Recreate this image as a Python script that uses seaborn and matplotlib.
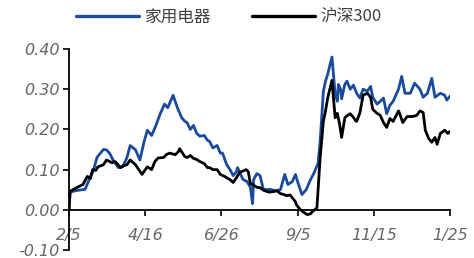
import matplotlib
matplotlib.use("Agg")
import matplotlib.pyplot as plt
import seaborn as sns
import pandas as pd

# ---- data (days since 2024-02-05) ----
blue_days = [0, 1, 7, 15, 20, 23, 26, 29, 32, 35,
             38, 41, 46, 50, 54, 57, 62, 66, 70, 73,
             77, 81, 85, 89, 92, 97, 101, 105, 108, 110,
             113, 116, 119, 122, 126, 129, 131, 134, 138, 141,
             143, 147, 150, 153, 156, 157, 162, 166, 169, 171,
             172, 175, 178, 181, 185, 187, 192, 197, 201, 204,
             208, 211, 213, 217, 221, 225, 228, 232, 234, 237,
             239, 241, 245, 248, 250, 251, 253, 254, 257, 259,
             262, 265, 268, 271, 274, 278, 281, 283, 287, 290,
             293, 296, 299, 302, 307, 310, 313, 318, 322, 327,
             330, 334, 338, 341, 346, 350, 352, 355]
blue_vals = [0.00, 0.044, 0.048, 0.051, 0.083, 0.10, 0.13, 0.14, 0.15, 0.149,
             0.14, 0.124, 0.105, 0.107, 0.13, 0.16, 0.149, 0.124, 0.17, 0.198,
             0.185, 0.21, 0.239, 0.263, 0.254, 0.285, 0.254, 0.229, 0.22, 0.217,
             0.20, 0.21, 0.19, 0.183, 0.185, 0.173, 0.17, 0.154, 0.16, 0.141,
             0.141, 0.112, 0.10, 0.085, 0.095, 0.105, 0.076, 0.07, 0.056, 0.015,
             0.075, 0.09, 0.085, 0.051, 0.05, 0.051, 0.048, 0.05, 0.088, 0.063,
             0.07, 0.088, 0.07, 0.038, 0.05, 0.075, 0.09, 0.115, 0.17, 0.295,
             0.32, 0.337, 0.38, 0.288, 0.27, 0.312, 0.30, 0.276, 0.312, 0.32,
             0.30, 0.31, 0.29, 0.278, 0.30, 0.295, 0.307, 0.28, 0.263, 0.27,
             0.278, 0.239, 0.26, 0.27, 0.30, 0.332, 0.29, 0.29, 0.315, 0.30,
             0.28, 0.29, 0.327, 0.28, 0.29, 0.285, 0.273, 0.283]

hs_days = [0, 1, 7, 13, 17, 20, 22, 25, 27, 32,
           35, 40, 43, 48, 51, 54, 57, 62, 65, 68,
           73, 77, 80, 83, 88, 91, 94, 99, 102, 103,
           106, 108, 110, 113, 116, 119, 122, 126, 129, 131,
           134, 138, 141, 145, 150, 153, 156, 159, 165, 167,
           169, 171, 175, 178, 181, 185, 187, 194, 197, 199,
           203, 206, 211, 212, 215, 218, 222, 225, 227, 231,
           234, 237, 239, 241, 245, 246, 248, 250, 252, 254,
           257, 259, 262, 265, 267, 268, 271, 274, 278, 281,
           283, 287, 290, 293, 296, 299, 302, 307, 308, 311,
           315, 320, 324, 327, 330, 332, 335, 338, 341, 343,
           346, 350, 353, 355]
hs_vals = [0.0, 0.046, 0.055, 0.063, 0.083, 0.078, 0.10, 0.098, 0.107, 0.112,
           0.124, 0.117, 0.12, 0.105, 0.11, 0.112, 0.124, 0.112, 0.10, 0.088,
           0.107, 0.10, 0.12, 0.129, 0.13, 0.138, 0.141, 0.137, 0.145, 0.152,
           0.14, 0.132, 0.13, 0.135, 0.128, 0.125, 0.12, 0.115, 0.105, 0.105,
           0.10, 0.1, 0.088, 0.083, 0.075, 0.068, 0.08, 0.093, 0.10, 0.095,
           0.065, 0.063, 0.056, 0.055, 0.049, 0.045, 0.044, 0.047, 0.04, 0.039,
           0.035, 0.037, 0.02, 0.012, 0.002, -0.005, -0.012, -0.01, -0.004, 0.005,
           0.13, 0.22, 0.246, 0.278, 0.322, 0.29, 0.229, 0.24, 0.215, 0.18,
           0.229, 0.234, 0.239, 0.23, 0.222, 0.22, 0.241, 0.285, 0.29, 0.28,
           0.25, 0.24, 0.235, 0.217, 0.205, 0.227, 0.22, 0.246, 0.24, 0.217,
           0.232, 0.232, 0.235, 0.246, 0.242, 0.198, 0.178, 0.168, 0.18, 0.163,
           0.19, 0.198, 0.19, 0.195]

series_names = ["家用电器", "沪深300"]
tick_days = [0, 71, 142, 213, 284, 355]
tick_labels = ["2/5", "4/16", "6/26", "9/5", "11/15", "1/25"]
y_ticks = [-0.10, 0.00, 0.10, 0.20, 0.30, 0.40]

df = pd.concat([
    pd.DataFrame({"day": blue_days, "val": blue_vals, "series": series_names[0]}),
    pd.DataFrame({"day": hs_days, "val": hs_vals, "series": series_names[1]}),
])

sns.set_theme(style="white")
plt.rcParams["font.family"] = ["Noto Sans CJK SC", "DejaVu Sans"]

fig = plt.figure(figsize=(4.74, 2.58), dpi=100)
ax = fig.add_axes([0.1456, 0.031, 0.8038, 0.779])

sns.lineplot(data=df, x="day", y="val", hue="series", estimator=None,
             palette={"家用电器": "#1a4a9c", "沪深300": "#000000"},
             linewidth=2.0, ax=ax, legend=True)

ax.set_xlim(0, 355)
ax.set_ylim(-0.10, 0.40)
ax.set_xlabel("")
ax.set_ylabel("")

for s in ["top", "right"]:
    ax.spines[s].set_visible(False)
ax.spines["left"].set_color("black")
ax.spines["left"].set_linewidth(1.3)
ax.spines["bottom"].set_position(("data", 0))
ax.spines["bottom"].set_color("black")
ax.spines["bottom"].set_linewidth(1.3)

ax.set_xticks(tick_days)
ax.set_xticklabels(tick_labels)
ax.set_yticks(y_ticks)
ax.set_yticklabels([f"{v:.2f}" for v in y_ticks])
ax.tick_params(axis="both", which="both", direction="out", length=4, width=1.2,
               color="black", labelcolor="#666666", labelsize=11.5, bottom=True, left=True)
ax.tick_params(axis="x", pad=9)
ax.tick_params(axis="y", pad=3)
for lab in ax.get_xticklabels() + ax.get_yticklabels():
    lab.set_fontstyle("italic")
    lab.set_family("DejaVu Sans")

leg = ax.legend(loc="center", bbox_to_anchor=(0.42, 1.16), ncol=2, frameon=False,
                handlelength=3.8, columnspacing=2.4, handletextpad=0.35,
                prop={"family": ["Noto Sans CJK SC", "DejaVu Sans"], "size": 12})
for t in leg.get_texts():
    t.set_color("#404040")
for h in leg.get_lines():
    h.set_linewidth(2.4)

fig.savefig("out.png", dpi=100)
